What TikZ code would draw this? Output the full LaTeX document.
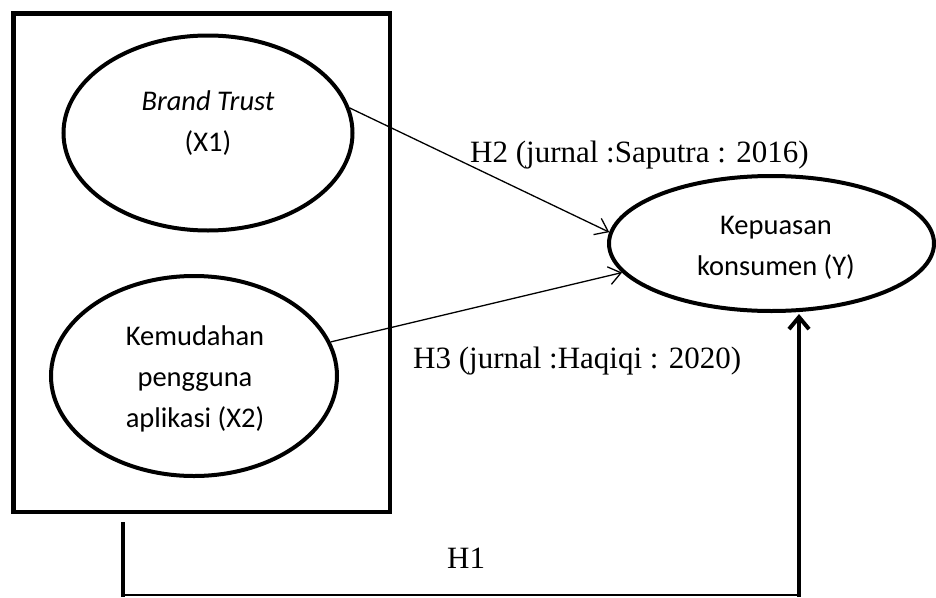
\documentclass[tikz,border=0pt]{standalone}
\usepackage{fontspec}
\setmainfont{Liberation Serif}
\newfontfamily\calfont{Carlito}
\usetikzlibrary{shapes.geometric,arrows.meta}
\begin{document}
\begin{tikzpicture}[x=1pt,y=-1pt,
  var/.style={ellipse, draw, line width=4pt, inner sep=0pt},
  vtext/.style={font=\calfont\fontsize{28.5}{41}\selectfont, align=center, inner sep=0pt},
  hlabel/.style={font=\fontsize{31}{36}\selectfont, inner sep=0pt, anchor=base west},
  thinarrow/.style={line width=1.3pt, -{Straight Barb[length=12pt,width=18pt]}},
  ]
\path[fill=white] (0,0) rectangle (936,597);
\useasboundingbox (0,0) rectangle (936,597);

% outer box
\node[draw, line width=4.5pt, minimum width=376.5pt, minimum height=498.5pt, inner sep=0pt] (box) at (201.75,262.75) {};

% variables
\node[var, minimum width=289pt, minimum height=195pt] (x1) at (208,133) {};
\node[vtext] (x1t) at (208,123.5) {\itshape Brand Trust\\(X1)};

\node[var, minimum width=286pt, minimum height=200pt] (x2) at (194,376) {};
\node[vtext] (x2t) at (195,378.5) {Kemudahan\\pengguna\\aplikasi (X2)};

\node[var, minimum width=325pt, minimum height=135pt] (y) at (771.5,243.5) {};
\node[vtext] (yt) at (776,247.5) {Kepuasan\\konsumen (Y)};

% hypotheses arrows
\draw[thinarrow] (x1.10) -- (y.176);
\draw[thinarrow] (x2.14) -- (y.191);

\node[hlabel] (h2) at (470,162) {H2 (jurnal :Saputra : 2016)};
\node[hlabel] (h3) at (413,368) {H3 (jurnal :Haqiqi : 2020)};

% H1 connector
\coordinate (h1top) at (123,522);
\coordinate (h1bl) at (123,595);
\coordinate (h1br) at (799,595);
\coordinate (ytip) at (799,314);
\draw[line width=4pt] (h1top) -- (123,597);
\draw[line width=1.5pt] (h1bl) -- (h1br);
\draw[line width=4pt, -{Straight Barb[length=12pt,width=20pt]}] (799,597) -- (ytip);
\node[hlabel] (h1) at (447,568) {H1};
\end{tikzpicture}
\end{document}
